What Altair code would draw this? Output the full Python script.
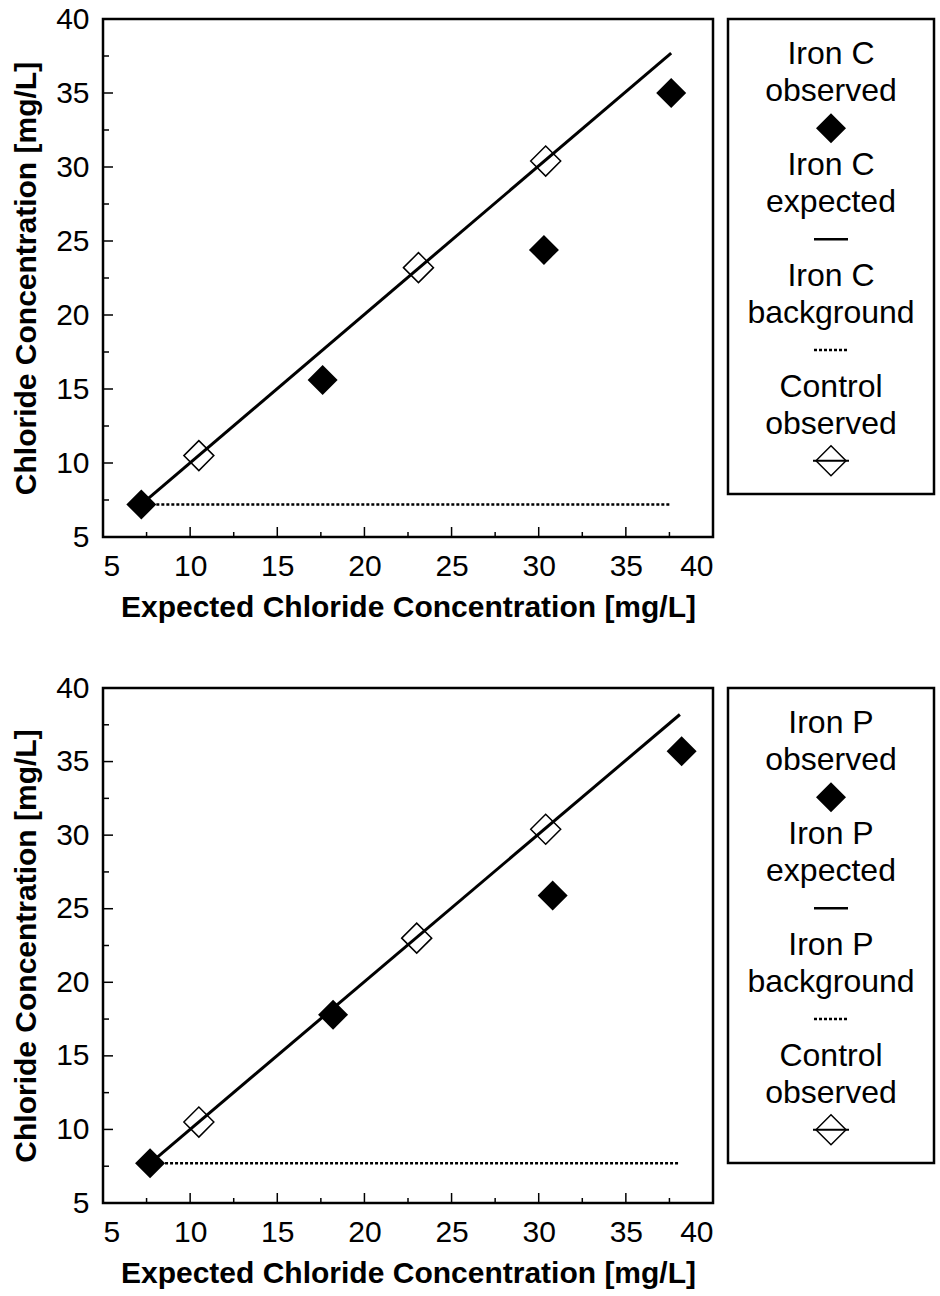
import altair as alt
import pandas as pd

# Axis tick positions shared by both panels
MAJOR_TICKS = [5, 10, 15, 20, 25, 30, 35, 40]
MINOR_TICKS = [7.5, 12.5, 17.5, 22.5, 27.5, 32.5, 37.5]
INNER_MAJOR = [10, 15, 20, 25, 30, 35]

# Iron C panel
c_obs_x = [7.2, 17.6, 30.3, 37.6]
c_obs_y = [7.2, 15.6, 24.4, 35.0]
c_exp_x = [7.2, 37.6]
c_exp_y = [7.2, 37.7]
c_bg_x = [7.2, 37.6]
c_bg_y = [7.2, 7.2]
c_ctl_x = [10.5, 23.1, 30.4]
c_ctl_y = [10.5, 23.2, 30.4]

# Iron P panel
p_obs_x = [7.7, 18.2, 30.8, 38.2]
p_obs_y = [7.7, 17.8, 25.9, 35.7]
p_exp_x = [7.7, 38.1]
p_exp_y = [7.7, 38.2]
p_bg_x = [7.7, 38.1]
p_bg_y = [7.7, 7.7]
p_ctl_x = [10.5, 23.0, 30.4]
p_ctl_y = [10.5, 23.0, 30.4]

X_TITLE = "Expected Chloride Concentration [mg/L]"
Y_TITLE = "Chloride Concentration [mg/L]"

PLOT_W = 610
LEG_W = 206
LEG_H = 475


def xy(xs, ys):
    return pd.DataFrame({"x": xs, "y": ys})


def panel(obs, exp, bg, ctl, height):
    xs = alt.Scale(domain=[5, 40], nice=False, zero=False)
    ys = alt.Scale(domain=[5, 40], nice=False, zero=False)
    x_axis = alt.Axis(values=MAJOR_TICKS, tickSize=0, domain=False, grid=False,
                      labelFontSize=30, labelPadding=14, labelColor="black",
                      title=X_TITLE, titleFontSize=30, titleFontWeight="bold",
                      titleColor="black", titlePadding=11)
    y_axis = alt.Axis(values=MAJOR_TICKS, tickSize=0, domain=False, grid=False,
                      labelFontSize=30, labelPadding=14, labelColor="black",
                      title=Y_TITLE, titleFontSize=30, titleFontWeight="bold",
                      titleColor="black", titlePadding=14)
    ex = alt.X("x:Q", scale=xs, axis=x_axis)
    ey = alt.Y("y:Q", scale=ys, axis=y_axis)

    expected = alt.Chart(exp).mark_line(color="black", strokeWidth=3).encode(x=ex, y=ey)
    background = alt.Chart(bg).mark_line(color="black", strokeWidth=2.5, strokeDash=[3, 2]).encode(x=ex, y=ey)
    control = alt.Chart(ctl).mark_point(shape="diamond", filled=False, size=900,
                                        color="black", strokeWidth=1.5, opacity=1).encode(x=ex, y=ey)
    observed = alt.Chart(obs).mark_point(shape="diamond", filled=True, size=900,
                                         color="black", opacity=1).encode(x=ex, y=ey)

    # inward-pointing ticks along the bottom and left edges
    tx_major = alt.Chart(pd.DataFrame({"x": INNER_MAJOR})).mark_rule(color="black", strokeWidth=1.5).encode(
        x=ex, y=alt.value(height), y2=alt.value(height - 10))
    tx_minor = alt.Chart(pd.DataFrame({"x": MINOR_TICKS})).mark_rule(color="black", strokeWidth=1.5).encode(
        x=ex, y=alt.value(height), y2=alt.value(height - 5))
    ty_major = alt.Chart(pd.DataFrame({"y": INNER_MAJOR})).mark_rule(color="black", strokeWidth=1.5).encode(
        y=ey, x=alt.value(0), x2=alt.value(10))
    ty_minor = alt.Chart(pd.DataFrame({"y": MINOR_TICKS})).mark_rule(color="black", strokeWidth=1.5).encode(
        y=ey, x=alt.value(0), x2=alt.value(6))

    return alt.layer(expected, background, control, observed,
                     tx_major, tx_minor, ty_major, ty_minor).properties(width=PLOT_W, height=height)


def legend(series):
    labels = [series, "observed", series, "expected", series, "background", "Control", "observed"]
    label_rows = [0, 1, 3, 4, 6, 7, 9, 10]
    ls = alt.Scale(domain=[-0.96, 11.9], nice=False, zero=False, reverse=True)
    ry = lambda: alt.Y("row:Q", scale=ls, axis=None)
    cx = LEG_W / 2

    text = alt.Chart(pd.DataFrame({"row": label_rows, "label": labels})).mark_text(
        fontSize=32, align="center", baseline="middle", color="black").encode(
        x=alt.value(cx), y=ry(), text="label:N")
    filled = alt.Chart(pd.DataFrame({"row": [2]})).mark_point(
        shape="diamond", filled=True, size=900, color="black", opacity=1).encode(x=alt.value(cx), y=ry())
    solid = alt.Chart(pd.DataFrame({"row": [5]})).mark_rule(color="black", strokeWidth=2.5).encode(
        x=alt.value(cx - 17), x2=alt.value(cx + 17), y=ry())
    dotted = alt.Chart(pd.DataFrame({"row": [8]})).mark_rule(color="black", strokeWidth=2.5, strokeDash=[3, 2]).encode(
        x=alt.value(cx - 17), x2=alt.value(cx + 17), y=ry())
    ctl_line = alt.Chart(pd.DataFrame({"row": [11]})).mark_rule(color="black", strokeWidth=2).encode(
        x=alt.value(cx - 18), x2=alt.value(cx + 18), y=ry())
    ctl_pt = alt.Chart(pd.DataFrame({"row": [11]})).mark_point(
        shape="diamond", filled=False, size=900, color="black", strokeWidth=1.5, opacity=1).encode(
        x=alt.value(cx), y=ry())

    return alt.layer(text, filled, solid, dotted, ctl_line, ctl_pt).properties(width=LEG_W, height=LEG_H)


top = panel(xy(c_obs_x, c_obs_y), xy(c_exp_x, c_exp_y), xy(c_bg_x, c_bg_y), xy(c_ctl_x, c_ctl_y), 518)
bottom = panel(xy(p_obs_x, p_obs_y), xy(p_exp_x, p_exp_y), xy(p_bg_x, p_bg_y), xy(p_ctl_x, p_ctl_y), 515)

chart = alt.concat(
    top, legend("Iron C"), bottom, legend("Iron P"),
    columns=2, spacing={"row": 151, "column": 15}, bounds="flush",
).properties(
    padding={"left": 10, "top": 2, "right": 2, "bottom": 5},
).configure(
    font="Liberation Sans",
).configure_view(
    stroke="black", strokeWidth=2.5,
)

chart.save("out.html", embed_options={"renderer": "svg", "actions": False})
